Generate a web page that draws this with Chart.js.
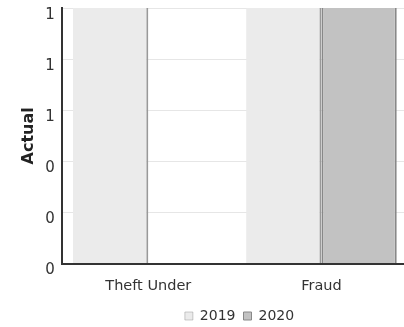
<!DOCTYPE html>
<html>
<head>
<meta charset="utf-8">
<script src="https://cdn.jsdelivr.net/npm/chart.js@4/dist/chart.umd.min.js"></script>
<style>
  html, body { margin: 0; padding: 0; background: #fff; overflow: hidden; }
  #wrap { position: relative; width: 412px; height: 341px; margin-top: -8px; }
</style>
</head>
<body>
<div id="wrap"><canvas id="barChart"></canvas></div>
<script>
const categories = ['Theft Under', 'Fraud'];
const seriesNames = ['2019', '2020'];
const actual2019 = [1, 1];
const actual2020 = [0, 1];
const yTicks = [0, 0.2, 0.4, 0.6, 0.8, 1];

Chart.defaults.font.family = '"DejaVu Sans", Verdana, sans-serif';
Chart.defaults.color = '#333';

// legend sits a bit right of the plot centre in the original
const legendShift = {
  id: 'legendShift',
  afterLayout(chart) {
    chart.legend.left += 26;
    chart.legend.right += 26;
  }
};

document.addEventListener('DOMContentLoaded', () => {
  chartInit();
});

function chartInit() {
  const chartBar = document.getElementById('barChart');

  const chartBarOptions = {
    type: 'bar',
    data: {
      labels: categories,
      datasets: [
        {
          label: seriesNames[0],
          data: actual2019,
          backgroundColor: '#ebebeb',
          borderColor: '#999999',
          borderWidth: { left: 0, right: 2, top: 0, bottom: 0 },
          borderSkipped: false,
        },
        {
          label: seriesNames[1],
          data: actual2020,
          backgroundColor: '#c2c2c2',
          borderColor: '#888888',
          borderWidth: { left: 2, right: 2, top: 0, bottom: 0 },
          borderSkipped: false,
        }
      ],
    },
    options: {
      responsive: true,
      maintainAspectRatio: false,
      animation: false,
      categoryPercentage: 0.87,
      barPercentage: 1.0,
      layout: {
        padding: { top: 0, right: 4, left: 19, bottom: 0 }
      },
      scales: {
        x: {
          grid: {
            display: false,
          },
          border: {
            display: true,
            color: '#333',
            width: 2,
          },
          ticks: {
            padding: 6,
            font: { size: 14.5 },
            color: '#333',
          }
        },
        y: {
          min: 0,
          max: 1,
          afterBuildTicks: (scale) => {
            scale.ticks = yTicks.map((v) => ({ value: v }));
          },
          grid: {
            color: '#e6e6e6',
            drawTicks: false,
          },
          border: {
            display: true,
            color: '#333',
            width: 2,
          },
          ticks: {
            padding: 7,
            labelOffset: 7,
            font: { size: 15 },
            color: '#333',
            callback: (value) => Math.round(value),
          },
          title: {
            display: true,
            text: 'Actual',
            font: { size: 16, weight: 'bold' },
            color: '#222',
            padding: { top: 0, bottom: 0 },
          }
        }
      },
      plugins: {
        legend: {
          position: 'bottom',
          labels: {
            boxWidth: 8,
            boxHeight: 8,
            padding: 8,
            font: { size: 14 },
            color: '#333',
          }
        },
        tooltip: { enabled: false }
      }
    },
    plugins: [legendShift],
  };

  if (chartBar) {
    new Chart(chartBar, chartBarOptions);
  }
}
</script>
</body>
</html>
